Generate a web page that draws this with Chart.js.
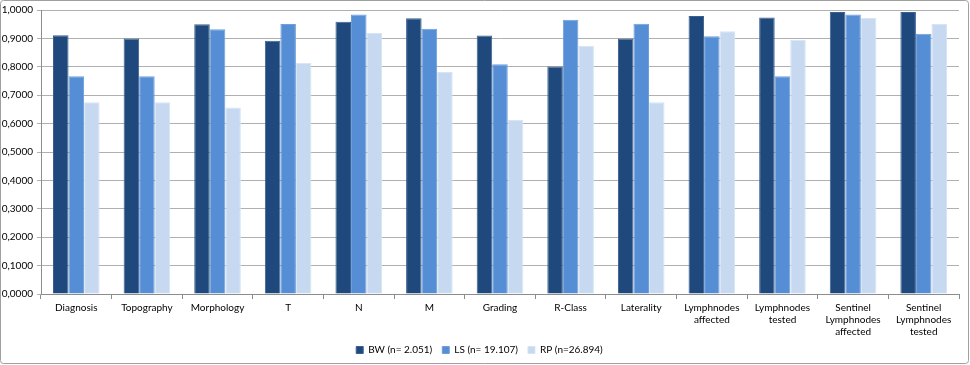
<!DOCTYPE html>
<html>
<head>
<meta charset="utf-8">
<script src="https://cdn.jsdelivr.net/npm/chart.js@4/dist/chart.umd.min.js"></script>
<style>
  html, body { margin: 0; padding: 0; background: #fff; }
  #wrap { width: 970px; height: 365px; position: relative; }
</style>
</head>
<body>
<div id="wrap"><canvas id="chart"></canvas></div>
<script>
const categories = [
  'Diagnosis', 'Topography', 'Morphology', 'T', 'N', 'M', 'Grading', 'R-Class', 'Laterality',
  ['Lymphnodes', 'affected'], ['Lymphnodes', 'tested'],
  ['Sentinel', 'Lymphnodes', 'affected'], ['Sentinel', 'Lymphnodes', 'tested']
];
const seriesNames = ['BW (n= 2.051)', 'LS (n= 19.107)', 'RP (n=26.894)'];
const bwValues = [0.911, 0.900, 0.950, 0.892, 0.959, 0.971, 0.910, 0.801, 0.900, 0.979, 0.974, 0.993, 0.993];
const lsValues = [0.767, 0.767, 0.932, 0.951, 0.984, 0.934, 0.809, 0.966, 0.952, 0.908, 0.767, 0.984, 0.916];
const rpValues = [0.675, 0.675, 0.657, 0.814, 0.919, 0.782, 0.613, 0.874, 0.675, 0.925, 0.895, 0.972, 0.951];
const colors = ['#1f497d', '#558ed5', '#c6d9f1'];
const edges = ['#3a6090', '#6f9fda', '#d6e4f5'];

const frame = {
  id: 'frame',
  beforeDraw(chart) {
    const c = chart.ctx;
    c.save();
    c.fillStyle = '#fff';
    c.fillRect(0, 0, chart.width, chart.height);
    c.strokeStyle = '#a0a0a0';
    c.lineWidth = 1;
    c.beginPath();
    c.roundRect(0.5, 0.5, chart.width - 2, chart.height - 2, 3);
    c.stroke();
    c.restore();
  }
};

const fontSpec = { family: 'Lato, "Liberation Sans", sans-serif', size: 10, lineHeight: 1.2 };

new Chart(document.getElementById('chart'), {
  type: 'bar',
  data: {
    labels: categories,
    datasets: [bwValues, lsValues, rpValues].map((d, i) => ({
      label: seriesNames[i],
      data: d,
      backgroundColor: colors[i],
      borderColor: edges[i],
      borderWidth: 1,
      categoryPercentage: 0.66,
      barPercentage: 1.0
    }))
  },
  options: {
    responsive: true,
    maintainAspectRatio: false,
    animation: false,
    layout: { padding: { top: 5, right: 11, bottom: 0, left: 0 } },
    plugins: {
      tooltip: { enabled: false },
      legend: {
        position: 'bottom',
        labels: { boxWidth: 7, boxHeight: 7, font: fontSpec, color: '#000', padding: 10 }
      }
    },
    scales: {
      x: {
        afterFit(scale) { scale.height -= 6; },
        grid: { offset: true, drawOnChartArea: false, drawTicks: true, tickLength: 5, color: '#8c8c8c' },
        border: { color: '#8c8c8c' },
        ticks: { font: fontSpec, color: '#000', maxRotation: 0, autoSkip: false, padding: 3 }
      },
      y: {
        min: 0, max: 1,
        afterFit(scale) { scale.width = 41; },
        grid: { color: '#b0b0b0', tickLength: 4 },
        border: { color: '#8c8c8c' },
        ticks: {
          stepSize: 0.1, font: fontSpec, color: '#000', padding: 4,
          callback: v => v.toFixed(4).replace('.', ',')
        }
      }
    }
  },
  plugins: [frame]
});
</script>
</body>
</html>
